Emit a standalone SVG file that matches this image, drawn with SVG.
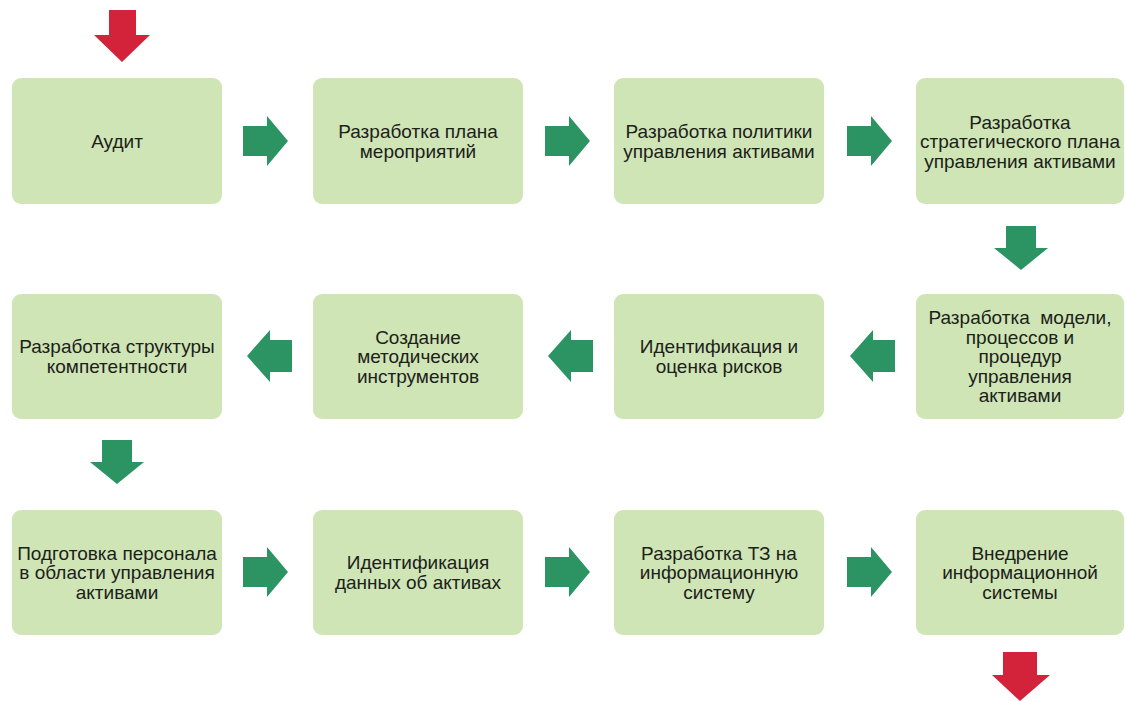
<svg xmlns="http://www.w3.org/2000/svg" width="1126" height="701" viewBox="0 0 1126 701">
<defs>
<style>
.box{fill:#cfe5b6;}
.t{font-family:"Liberation Sans",Arial,sans-serif;font-size:19px;fill:#1c211a;text-anchor:middle;}
.g{fill:#2b9462;}
.r{fill:#d2233a;}
</style>
<path id="ar" d="M0,-15 H24 V-25 L45,0 L24,25 V15 H0 Z"/>
<path id="al" d="M0,0 L23,-26 V-16 H45 V16 H23 V26 Z"/>
<path id="ad" d="M-15,0 H15 V22 H27 L0,44 L-27,22 H-15 Z"/>
</defs>
<rect width="1126" height="701" fill="#ffffff"/>
<g id="connectors">
<path class="r" d="M109,10 H136 V35 H150 L122,62 L94,35 H109 Z"/>
<use href="#ar" class="g" x="243" y="141"/>
<use href="#ar" class="g" x="545" y="141"/>
<use href="#ar" class="g" x="847" y="141"/>
<use href="#ad" class="g" x="1021" y="226"/>
<use href="#al" class="g" x="850" y="356"/>
<use href="#al" class="g" x="548" y="356"/>
<use href="#al" class="g" x="247" y="356"/>
<use href="#ad" class="g" x="117" y="440"/>
<use href="#ar" class="g" x="243" y="572"/>
<use href="#ar" class="g" x="545" y="572"/>
<use href="#ar" class="g" x="847" y="572"/>
<path class="r" d="M1003,652 H1037 V675 H1050 L1020,701 L992,675 H1003 Z"/>
</g>
<g id="n1"><rect class="box" x="12" y="78" width="210" height="126" rx="9"/><text class="t" x="117" y="148">Аудит</text></g>
<g id="n2"><rect class="box" x="313" y="78" width="210" height="126" rx="9"/><text class="t" x="418" y="138">Разработка плана<tspan x="418" dy="19.5">мероприятий</tspan></text></g>
<g id="n3"><rect class="box" x="614" y="78" width="210" height="126" rx="9"/><text class="t" x="719" y="138">Разработка политики<tspan x="719" dy="19.5">управления активами</tspan></text></g>
<g id="n4"><rect class="box" x="916" y="78" width="208" height="126" rx="9"/><text class="t" x="1020" y="128.5">Разработка<tspan x="1020" dy="19.5">стратегического плана</tspan><tspan x="1020" dy="19.5">управления активами</tspan></text></g>
<g id="n5"><rect class="box" x="916" y="294" width="208" height="125" rx="9"/><text class="t" x="1020" y="324">Разработка&#160; модели,<tspan x="1020" dy="19.5">процессов и</tspan><tspan x="1020" dy="19.5">процедур</tspan><tspan x="1020" dy="19.5">управления</tspan><tspan x="1020" dy="19.5">активами</tspan></text></g>
<g id="n6"><rect class="box" x="614" y="294" width="210" height="125" rx="9"/><text class="t" x="719" y="353">Идентификация и<tspan x="719" dy="19.5">оценка рисков</tspan></text></g>
<g id="n7"><rect class="box" x="313" y="294" width="210" height="125" rx="9"/><text class="t" x="418" y="343.5">Создание<tspan x="418" dy="19.5">методических</tspan><tspan x="418" dy="19.5">инструментов</tspan></text></g>
<g id="n8"><rect class="box" x="12" y="294" width="210" height="125" rx="9"/><text class="t" x="117" y="353">Разработка структуры<tspan x="117" dy="19.5">компетентности</tspan></text></g>
<g id="n9"><rect class="box" x="12" y="510" width="210" height="125" rx="9"/><text class="t" x="117" y="559.5">Подготовка персонала<tspan x="117" dy="19.5">в области управления</tspan><tspan x="117" dy="19.5">активами</tspan></text></g>
<g id="n10"><rect class="box" x="313" y="510" width="210" height="125" rx="9"/><text class="t" x="418" y="569">Идентификация<tspan x="418" dy="19.5">данных об активах</tspan></text></g>
<g id="n11"><rect class="box" x="614" y="510" width="210" height="125" rx="9"/><text class="t" x="719" y="559.5">Разработка ТЗ на<tspan x="719" dy="19.5">информационную</tspan><tspan x="719" dy="19.5">систему</tspan></text></g>
<g id="n12"><rect class="box" x="916" y="510" width="208" height="125" rx="9"/><text class="t" x="1020" y="559.5">Внедрение<tspan x="1020" dy="19.5">информационной</tspan><tspan x="1020" dy="19.5">системы</tspan></text></g>
</svg>
